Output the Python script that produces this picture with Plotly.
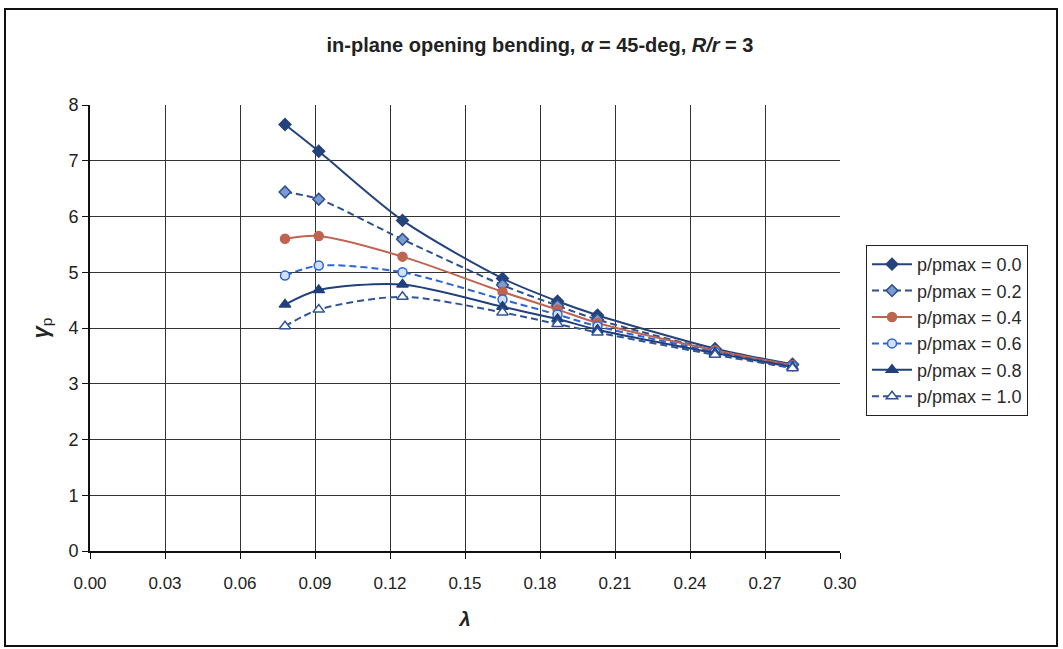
import plotly.graph_objects as go

# lambda values (shared by all load ratios)
lam = [0.078, 0.0915, 0.125, 0.165, 0.187, 0.203, 0.250, 0.281]

# gamma_p for each pressure ratio p/pmax
g_00 = [7.65, 7.17, 5.93, 4.89, 4.48, 4.23, 3.63, 3.35]
g_02 = [6.44, 6.31, 5.59, 4.77, 4.40, 4.15, 3.60, 3.34]
g_04 = [5.60, 5.65, 5.28, 4.65, 4.33, 4.09, 3.60, 3.33]
g_06 = [4.94, 5.12, 5.00, 4.51, 4.24, 4.03, 3.57, 3.32]
g_08 = [4.42, 4.68, 4.78, 4.38, 4.16, 3.97, 3.55, 3.30]
g_10 = [4.03, 4.33, 4.56, 4.28, 4.07, 3.92, 3.52, 3.28]

names = ["p/pmax = 0.0", "p/pmax = 0.2", "p/pmax = 0.4",
         "p/pmax = 0.6", "p/pmax = 0.8", "p/pmax = 1.0"]
x_ticks = [0.00, 0.03, 0.06, 0.09, 0.12, 0.15, 0.18, 0.21, 0.24, 0.27, 0.30]
y_ticks = [0, 1, 2, 3, 4, 5, 6, 7, 8]

FONT = "Arial, Liberation Sans, sans-serif"

styles = [
    dict(color="#24427c", dash="solid", symbol="diamond", fill="#24427c", size=9),
    dict(color="#2c4f8e", dash="7px,4px", symbol="diamond", fill="#7d9ccd", size=9),
    dict(color="#bf6450", dash="solid", symbol="circle", fill="#bf6450", size=9),
    dict(color="#2a66d6", dash="7px,4px", symbol="circle", fill="#d3e0f7", size=9),
    dict(color="#20407c", dash="solid", symbol="triangle-up", fill="#20407c", size=10),
    dict(color="#31539a", dash="7px,4px", symbol="triangle-up", fill="#ffffff", size=10),
]

fig = go.Figure()
for ys, nm, st in zip([g_00, g_02, g_04, g_06, g_08, g_10], names, styles):
    fig.add_trace(go.Scatter(
        x=lam, y=ys, name=nm, mode="lines+markers",
        line=dict(color=st["color"], width=2, dash=st["dash"], shape="spline", smoothing=0.8),
        marker=dict(symbol=st["symbol"], size=st["size"], color=st["fill"],
                    line=dict(color=st["color"], width=1.5)),
    ))

L, R, T, B = 90, 223, 105, 98
W, H = 1063, 649
pw, ph = W - L - R, H - T - B

def px_x(p):
    return (p - L) / pw

def px_y(p):
    return (H - B - p) / ph

# outer chart frame
fig.add_shape(type="rect", xref="paper", yref="paper",
              x0=px_x(5), x1=px_x(1057), y0=px_y(646), y1=px_y(9),
              line=dict(color="#111111", width=2), fillcolor="rgba(0,0,0,0)", layer="below")

fig.update_layout(
    width=W, height=H,
    margin=dict(l=L, r=R, t=T, b=B),
    paper_bgcolor="white", plot_bgcolor="white",
    font=dict(family=FONT, size=17, color="#222222"),
    title=dict(text="<b>in-plane opening bending, <i>α</i> = 45-deg, <i>R/r</i> = 3</b>",
               x=0.508, xanchor="center", y=1 - 45 / H, yanchor="middle",
               font=dict(size=20, color="#222222")),
    showlegend=True,
    legend=dict(x=px_x(866), y=px_y(245), xanchor="left", yanchor="top",
                bordercolor="#222222", borderwidth=1, bgcolor="white",
                font=dict(size=18, color="#2a2a2a"), tracegroupgap=0,
                itemwidth=40),
    xaxis=dict(range=[0, 0.30], tickvals=x_ticks, tickformat=".2f",
               showgrid=True, gridcolor="#333333", gridwidth=1,
               showline=True, linecolor="#111111", linewidth=2,
               ticks="outside", ticklen=6, tickcolor="#111111",
               ticklabelstandoff=10,
               tickfont=dict(size=17), zeroline=False,
               title=dict(text="<b><i>λ</i></b>", font=dict(size=20), standoff=20)),
    yaxis=dict(range=[0, 8], tickvals=y_ticks,
               showgrid=True, gridcolor="#333333", gridwidth=1,
               showline=True, linecolor="#111111", linewidth=2,
               ticks="outside", ticklen=6, tickcolor="#111111",
               tickfont=dict(size=18), zeroline=False,
               title=dict(text="<b><i>γ</i></b><sub>p</sub>", font=dict(size=22), standoff=14)),
)

fig.write_html("out.html")
